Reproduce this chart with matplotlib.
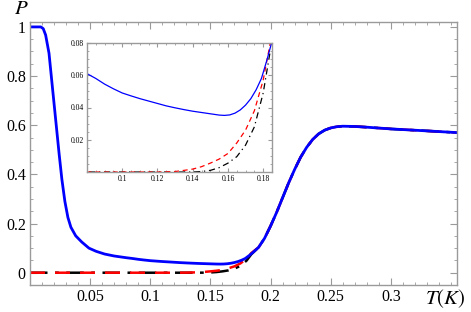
import numpy as np
import matplotlib
matplotlib.use('Agg')
import matplotlib.pyplot as plt
from matplotlib.ticker import MultipleLocator, FixedLocator

plt.rcParams['font.family'] = ['Liberation Serif', 'DejaVu Serif']
plt.rcParams['mathtext.fontset'] = 'stix'

# blue curve P(T)
t_blue = [0.0, 0.005, 0.009, 0.011, 0.013, 0.0158, 0.0186, 0.0214, 0.0242, 0.0265,
          0.029, 0.0315, 0.034, 0.038, 0.043, 0.049, 0.055, 0.062, 0.070, 0.080,
          0.085, 0.090, 0.095, 0.100, 0.105, 0.110, 0.115, 0.120, 0.125, 0.130,
          0.135, 0.140, 0.145, 0.150, 0.155, 0.158, 0.161, 0.164, 0.167, 0.170,
          0.173, 0.176, 0.179, 0.182, 0.185, 0.190, 0.195, 0.200, 0.205, 0.210,
          0.215, 0.220, 0.225, 0.230, 0.235, 0.240, 0.245, 0.250, 0.255, 0.260,
          0.270, 0.280, 0.300, 0.330, 0.355]
p_blue = [1.0, 1.0, 1.0, 0.993, 0.967, 0.893, 0.756, 0.62, 0.484, 0.38,
          0.29, 0.225, 0.185, 0.15, 0.125, 0.10, 0.087, 0.076, 0.068, 0.061,
          0.058, 0.0545, 0.0516, 0.049, 0.0472, 0.0455, 0.044, 0.0425, 0.041, 0.0398,
          0.0387, 0.0377, 0.0369, 0.0361, 0.0353, 0.0351, 0.0354, 0.0365, 0.0385, 0.0415,
          0.0455, 0.051, 0.058, 0.069, 0.081, 0.103, 0.14, 0.19, 0.245, 0.305,
          0.365, 0.42, 0.47, 0.51, 0.542, 0.565, 0.58, 0.589, 0.594, 0.596,
          0.595, 0.592, 0.585, 0.577, 0.570]

# red dashed curve
t_red = [0.0, 0.12, 0.13, 0.135, 0.14, 0.145, 0.15, 0.155, 0.16, 0.165,
         0.17, 0.175, 0.18, 0.184]
p_red = [0.0, 0.0, 0.0003, 0.001, 0.0018, 0.0033, 0.0055, 0.008, 0.0115, 0.018,
         0.026, 0.038, 0.057, 0.080]

# black dash-dot curve
t_blk = [0.0, 0.14, 0.145, 0.15, 0.155, 0.16, 0.165, 0.17, 0.175, 0.18, 0.184]
p_blk = [0.0, 0.0, 0.0003, 0.001, 0.0027, 0.0055, 0.0095, 0.0167, 0.028, 0.049, 0.075]

# above the merge point red and black follow the blue curve
t_tail = [t for t in t_blue if t > 0.186]
p_tail = [p for t, p in zip(t_blue, p_blue) if t > 0.186]

gray = '#9a9a9a'


def frame(ax, size):
    for s in ax.spines.values():
        s.set_color(gray)
        s.set_linewidth(1.0)
    ax.tick_params(which='both', direction='in', top=True, right=True,
                   color=gray, labelsize=size, pad=3)


fig = plt.figure(figsize=(4.71, 3.12), dpi=100)
ax = fig.add_axes([30/471, 27/312, 427/471, 263/312])

ax.plot(t_blk + t_tail, p_blk + p_tail, color='black', lw=1.8, dashes=(7, 3, 1.5, 3))
ax.plot(t_red + t_tail, p_red + p_tail, color='red', lw=1.8, dashes=(6, 4))
ax.plot(t_blue, p_blue, color='blue', lw=2.0)

ax.set_xlim(0, 0.355)
ax.set_ylim(-0.05, 1.02)
ax.xaxis.set_major_locator(FixedLocator([0.05, 0.1, 0.15, 0.2, 0.25, 0.3]))
ax.xaxis.set_minor_locator(MultipleLocator(0.01))
ax.yaxis.set_major_locator(FixedLocator([0, 0.2, 0.4, 0.6, 0.8, 1.0]))
ax.yaxis.set_minor_locator(MultipleLocator(0.05))
ax.set_xticklabels(['0.05', '0.1', '0.15', '0.2', '0.25', '0.3'])
ax.set_yticklabels(['0', '0.2', '0.4', '0.6', '0.8', '1'])
frame(ax, 11.5)
ax.tick_params(which='major', length=5)
ax.tick_params(which='minor', length=2.5)

fig.text(21/471, 1 - 9/312, r'$P$', fontsize=15, ha='center', va='center')
fig.text(445/471, 1 - 299/312, r'$T(K)$', fontsize=15, ha='center', va='center')

# inset
ins = fig.add_axes([87/471, 1 - 172/312, 185/471, 129/312])
ins.plot(t_blk, p_blk, color='black', lw=0.9, dashes=(5, 3, 1, 3))
ins.plot(t_red, p_red, color='red', lw=0.9, dashes=(4, 3))
ins.plot(t_blue, p_blue, color='blue', lw=0.9)
ins.set_xlim(0.08, 0.185)
ins.set_ylim(0, 0.08)
ins.xaxis.set_major_locator(FixedLocator([0.1, 0.12, 0.14, 0.16, 0.18]))
ins.xaxis.set_minor_locator(MultipleLocator(0.005))
ins.yaxis.set_major_locator(FixedLocator([0.02, 0.04, 0.06, 0.08]))
ins.yaxis.set_minor_locator(MultipleLocator(0.005))
ins.set_xticklabels(['0.1', '0.12', '0.14', '0.16', '0.18'])
ins.set_yticklabels(['0.02', '0.04', '0.06', '0.08'])
frame(ins, 5.5)
ins.tick_params(which='major', length=3, pad=2)
ins.tick_params(which='minor', length=1.5)

fig.savefig('out.png', dpi=100)
